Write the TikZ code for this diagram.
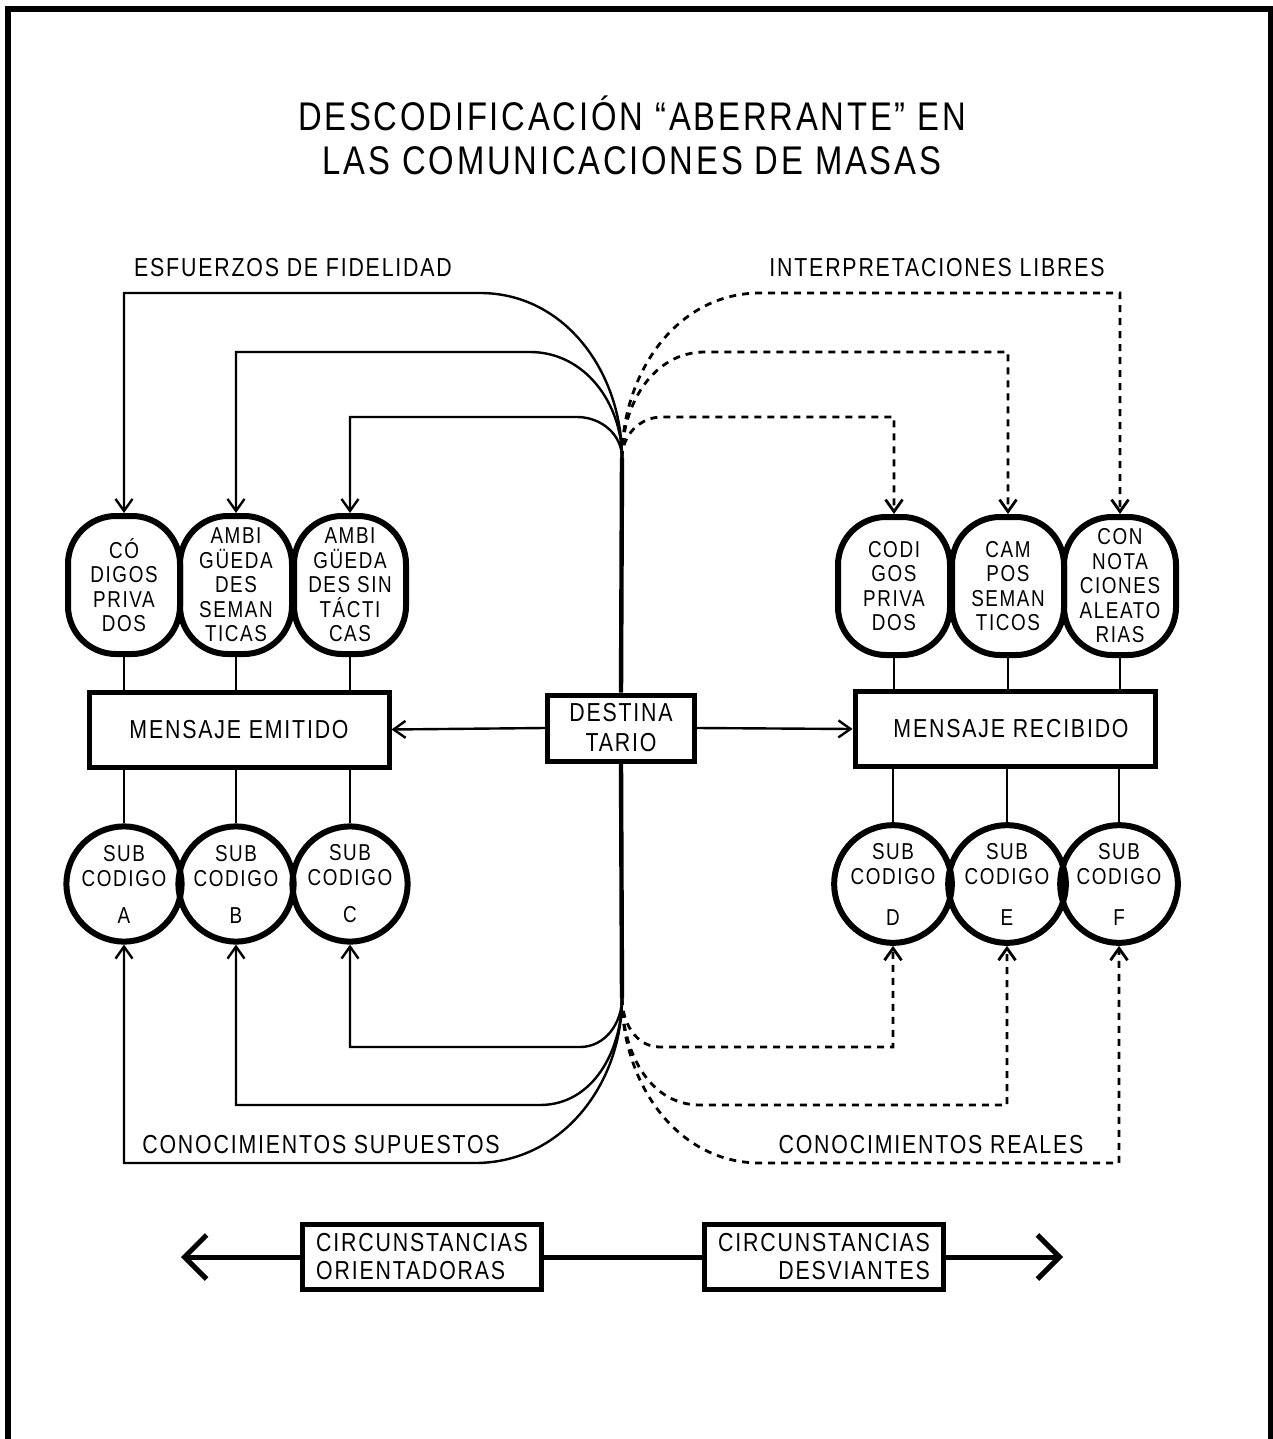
\documentclass[tikz,border=0pt]{standalone}
\usepackage{fontspec}
\setmainfont{Liberation Sans}[FakeStretch=0.82,LetterSpace=7]
\usetikzlibrary{arrows.meta}
\tikzset{
  oval/.style={draw,line width=3pt,rounded corners=24pt,minimum width=56pt,minimum height=69pt,inner sep=0pt,align=center,font=\fontsize{11.5}{12.25}\selectfont},
  sub/.style={draw,circle,line width=3pt,minimum size=53.5pt,inner sep=0pt,align=center,font=\fontsize{11.5}{12.5}\selectfont},
  msg/.style={draw,line width=2.5pt,minimum width=150pt,minimum height=37.5pt,inner sep=0pt,font=\fontsize{13}{15}\selectfont},
  circbox/.style={draw,line width=2.5pt,minimum width=119.5pt,minimum height=32.5pt,inner sep=4pt,font=\fontsize{13}{14}\selectfont},
  lbl/.style={inner sep=0pt,font=\fontsize{13}{15}\selectfont},
  link/.style={line width=1.4pt},
  fid/.style={line width=1.2pt,-{Straight Barb[length=6pt,width=8.5pt]}},
  lib/.style={fid,line width=1.4pt,dash pattern=on 3.5pt off 3pt},
  big/.style={line width=2.5pt,-{Straight Barb[length=11pt,width=22pt]}}
}

\begin{document}
\begin{tikzpicture}[x=0.5pt,y=-0.5pt]
  \useasboundingbox (0,0) rectangle (1273,1439);
  \draw[line width=3pt] (8,1439) -- (8,9) -- (1271,9) -- (1271,1439);

  \node[lbl,font=\fontsize{20}{22}\selectfont,align=center] (ttl) at (632,135) {DESCODIFICACIÓN “ABERRANTE” EN\\LAS COMUNICACIONES DE MASAS};
  \node[lbl] (esf) at (293,268) {ESFUERZOS DE FIDELIDAD};
  \node[lbl] (int) at (937,268) {INTERPRETACIONES LIBRES};
  \node[lbl] (sup) at (321,1145) {CONOCIMIENTOS SUPUESTOS};
  \node[lbl] (rea) at (931,1145) {CONOCIMIENTOS REALES};

  \node[oval] (ce1) at (124,585) {CÓ\\DIGOS\\PRIVA\\DOS};
  \node[oval] (ce2) at (236,585) {AMBI\\GÜEDA\\DES\\SEMAN\\TICAS};
  \node[oval] (ce3) at (350,585) {AMBI\\GÜEDA\\DES SIN\\TÁCTI\\CAS};
  \node[oval] (cr1) at (894,586) {CODI\\GOS\\PRIVA\\DOS};
  \node[oval] (cr2) at (1008,586) {CAM\\POS\\SEMAN\\TICOS};
  \node[oval] (cr3) at (1120,586) {CON\\NOTA\\CIONES\\ALEATO\\RIAS};

  \node[msg] (eme) at (239,729.5) {MENSAJE EMITIDO};
  \node[msg] (mre) at (1005,729) {\hspace{6pt}MENSAJE RECIBIDO};
  \node[msg,minimum width=73.5pt,minimum height=33pt,align=center] (dst) at (621,728) {DESTINA\\TARIO};

  \node[sub] (sa) at (124,884) {SUB\\CODIGO\\[6pt]A};
  \node[sub] (sb) at (236,884) {SUB\\CODIGO\\[6pt]B};
  \node[sub] (sc) at (350,884) {SUB\\CODIGO\\[6pt]C};
  \node[sub] (sd) at (893,884) {SUB\\CODIGO\\[8pt]D};
  \node[sub] (se) at (1007,884) {SUB\\CODIGO\\[8pt]E};
  \node[sub] (sf) at (1119,884) {SUB\\CODIGO\\[8pt]F};

  \node[circbox,align=left] (ori) at (422,1257) {CIRCUNSTANCIAS\\ORIENTADORAS};
  \node[circbox,align=right] (des) at (824,1257) {CIRCUNSTANCIAS\\DESVIANTES};
  \coordinate (tipL) at (181,1257);
  \coordinate (tipR) at (1063,1257);

  \coordinate (hubT) at (622,458);
  \coordinate (hubB) at (622,998);
  \coordinate (f1) at (480,293);
  \coordinate (f2) at (530,352);
  \coordinate (f3) at (577,417);
  \coordinate (i1) at (760,293);
  \coordinate (i2) at (705,352);
  \coordinate (i3) at (662,417);
  \coordinate (s1) at (580,1047);
  \coordinate (s2) at (540,1105);
  \coordinate (s3) at (475,1163);
  \coordinate (r1) at (660,1047);
  \coordinate (r2) at (700,1105);
  \coordinate (r3) at (760,1163);

  \draw[line width=2.2pt] (hubT) -- (dst.north);
  \draw[line width=2.2pt] (dst.south) -- (hubB);
  \draw[fid] (dst.west) -- (eme.east);
  \draw[fid] (dst.east) -- (mre.west);

  \draw[fid] (hubT) to[out=90,in=0] (f1) -| (ce1.north);
  \draw[fid] (hubT) to[out=90,in=0] (f2) -| (ce2.north);
  \draw[fid] (hubT) to[out=90,in=0] (f3) -| (ce3.north);
  \draw[lib] (hubT) to[out=90,in=180] (i1) -| (cr3.north);
  \draw[lib] (hubT) to[out=90,in=180] (i2) -| (cr2.north);
  \draw[lib] (hubT) to[out=90,in=180] (i3) -| (cr1.north);
  \draw[fid] (hubB) to[out=-90,in=0] (s1) -| (sc.south);
  \draw[fid] (hubB) to[out=-90,in=0] (s2) -| (sb.south);
  \draw[fid] (hubB) to[out=-90,in=0] (s3) -| (sa.south);
  \draw[lib] (hubB) to[out=-90,in=180] (r1) -| (sd.south);
  \draw[lib] (hubB) to[out=-90,in=180] (r2) -| (se.south);
  \draw[lib] (hubB) to[out=-90,in=180] (r3) -| (sf.south);

  \draw[link] (ce1.south) -- (ce1.south |- eme.north);
  \draw[link] (ce2.south) -- (ce2.south |- eme.north);
  \draw[link] (ce3.south) -- (ce3.south |- eme.north);
  \draw[link] (cr1.south) -- (cr1.south |- mre.north);
  \draw[link] (cr2.south) -- (cr2.south |- mre.north);
  \draw[link] (cr3.south) -- (cr3.south |- mre.north);
  \draw[link] (sa.north |- eme.south) -- (sa.north);
  \draw[link] (sb.north |- eme.south) -- (sb.north);
  \draw[link] (sc.north |- eme.south) -- (sc.north);
  \draw[link] (sd.north |- mre.south) -- (sd.north);
  \draw[link] (se.north |- mre.south) -- (se.north);
  \draw[link] (sf.north |- mre.south) -- (sf.north);

  \draw[big] (ori.west) -- (tipL);
  \draw[line width=2.5pt] (ori.east) -- (des.west);
  \draw[big] (des.east) -- (tipR);
\end{tikzpicture}
\end{document}
